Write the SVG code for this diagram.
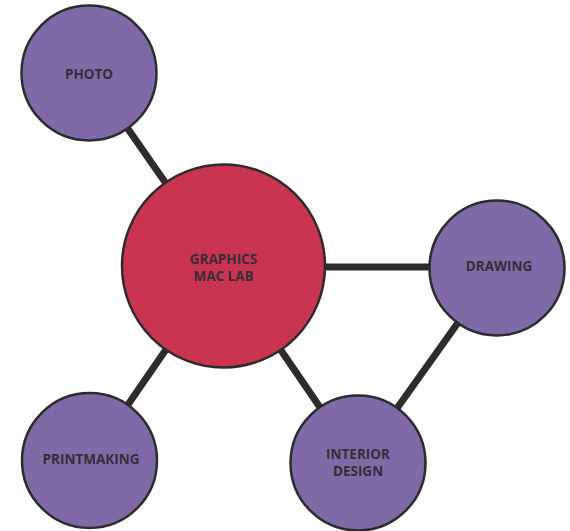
<svg xmlns="http://www.w3.org/2000/svg" width="570" height="531" viewBox="0 0 570 531">
<style>
.edge{stroke:#2d2b2c;stroke-width:7;fill:none}
.node{stroke:#2d2b2c;stroke-width:2.5}
.sub{fill:#7f6aa8}
.hub{fill:#c93451}
text{font-family:"Open Sans","Liberation Sans",sans-serif;font-weight:bold;font-size:13.5px;fill:#382c37;text-anchor:middle}
</style>
<rect width="570" height="531" fill="#ffffff"/>
<g id="connectors">
<line class="edge" x1="89" y1="73" x2="223.5" y2="266"/>
<line class="edge" x1="223.5" y1="267" x2="497" y2="267"/>
<line class="edge" x1="223.5" y1="266" x2="358" y2="463"/>
<line class="edge" x1="223.5" y1="266" x2="89.5" y2="460.5"/>
<line class="edge" x1="497" y1="268" x2="358" y2="463"/>
</g>
<g id="photo">
<circle class="node sub" cx="89" cy="73" r="67.5"/>
<text x="89" y="79">PHOTO</text>
</g>
<g id="graphics-mac-lab">
<circle class="node hub" cx="223.5" cy="266" r="101.5"/>
<text x="223.5" y="264">GRAPHICS</text>
<text x="223.5" y="280.5">MAC LAB</text>
</g>
<g id="drawing">
<circle class="node sub" cx="497" cy="268" r="67.5"/>
<text x="499" y="271">DRAWING</text>
</g>
<g id="interior-design">
<circle class="node sub" cx="358" cy="463" r="67.5"/>
<text x="358" y="459">INTERIOR</text>
<text x="358" y="475.5">DESIGN</text>
</g>
<g id="printmaking">
<circle class="node sub" cx="89.5" cy="460.5" r="67.5"/>
<text x="91" y="464">PRINTMAKING</text>
</g>
</svg>
